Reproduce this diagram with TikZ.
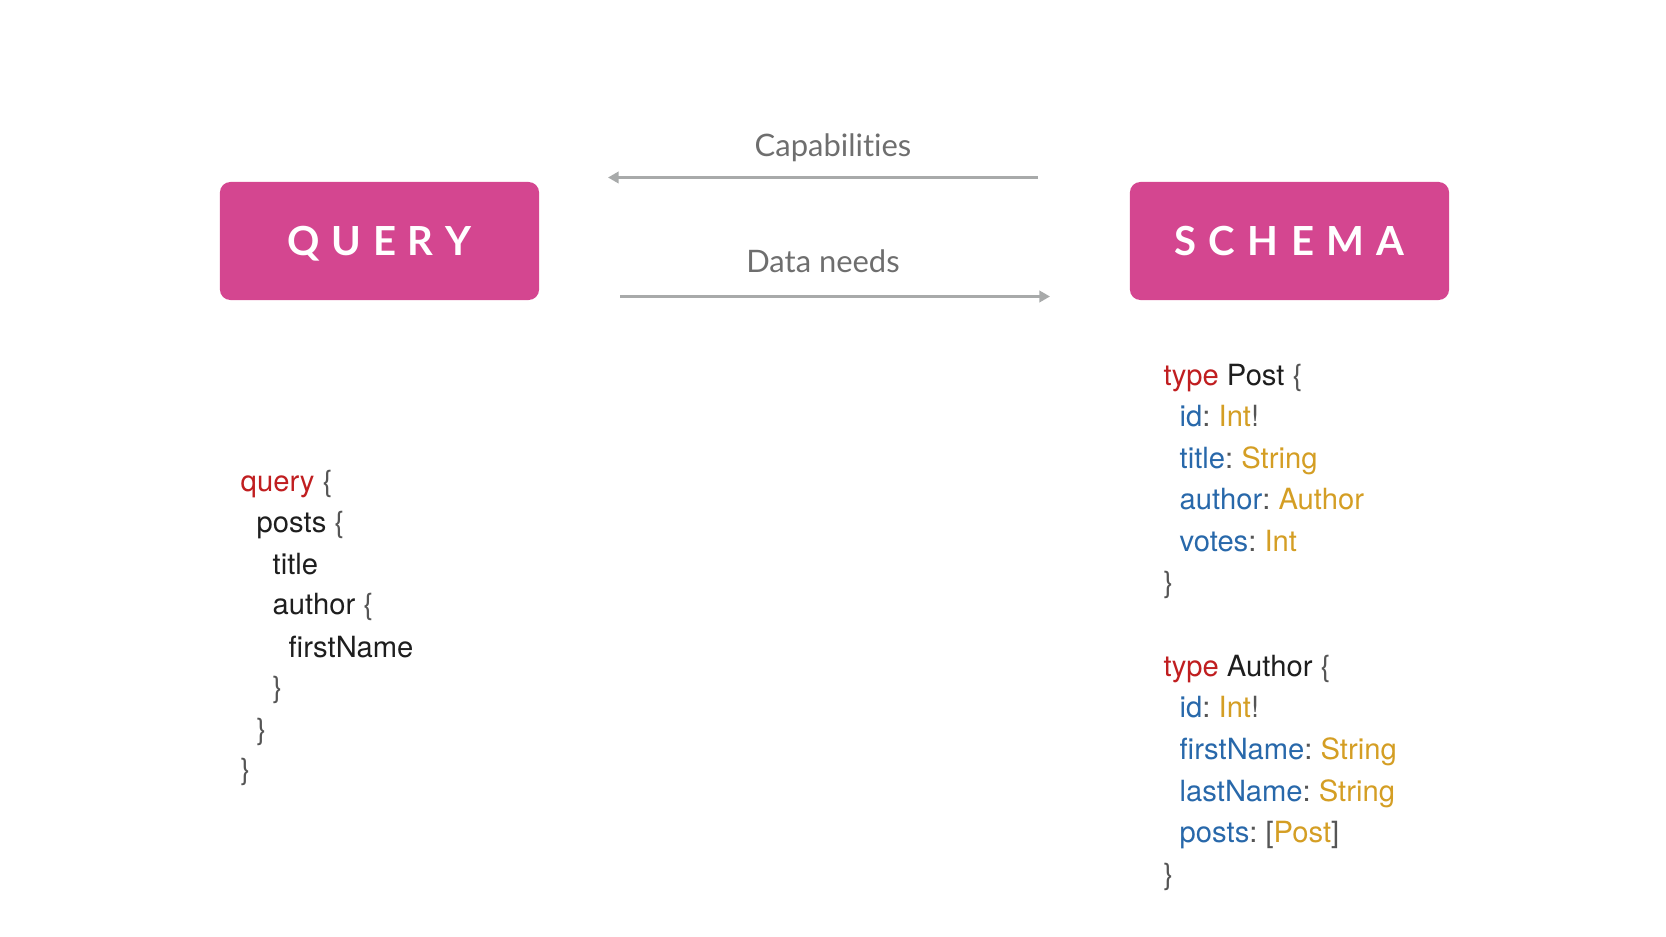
\documentclass[tikz,border=0pt]{standalone}
\usepackage{fontspec}
\setmainfont{TeX Gyre Heros}
\newfontfamily\labelfont[Ligatures={NoCommon}]{Lato}
\usetikzlibrary{arrows.meta}
\frenchspacing

\definecolor{boxpink}{RGB}{212,70,144}
\definecolor{arrowgray}{RGB}{168,170,170}
\definecolor{labelgray}{RGB}{110,110,110}
\definecolor{kwred}{RGB}{192,30,32}
\definecolor{fieldblue}{RGB}{40,104,170}
\definecolor{typegold}{RGB}{212,158,36}
\definecolor{codeblack}{RGB}{30,30,30}
\definecolor{bracegray}{RGB}{85,85,85}

\newcommand{\kw}[1]{\textcolor{kwred}{#1}}
\newcommand{\fld}[1]{\textcolor{fieldblue}{#1}}
\newcommand{\typ}[1]{\textcolor{typegold}{#1}}
\newcommand{\pun}[1]{\textcolor{bracegray}{#1}}

\begin{document}
\begin{tikzpicture}[x=0.01cm,y=-0.01cm,
  titlebox/.style={fill=boxpink, rounded corners=3pt, minimum width=3.19cm,
    minimum height=1.18cm, inner sep=0pt, text=white,
    text height=0.28cm, text depth=0pt,
    font=\labelfont\bfseries\fontsize{11.4pt}{13pt}\selectfont},
  flowlabel/.style={text=labelgray, inner sep=0pt, anchor=base,
    font=\labelfont\fontsize{8.8pt}{10pt}\selectfont},
  flow/.style={draw=arrowgray, line width=0.75pt,
    -{Triangle[length=3pt,width=3.2pt]}},
  code/.style={anchor=base west, inner sep=0pt, text=codeblack,
    font=\fontsize{8.3pt}{10pt}\selectfont}]

\useasboundingbox (0,0) rectangle (1666,937);

% title boxes
\node[titlebox] (query) at (379.5,241) {Q\kern3.3pt U\kern3.3pt E\kern3.3pt R\kern3.3pt Y};
\node[titlebox] (schema) at (1289.5,241) {S\kern3.5pt C\kern3.5pt H\kern3.5pt E\kern3.5pt M\kern3.5pt A};

% exchange arrows between the boxes
\coordinate (capStart) at (1038,177.5);
\coordinate (capEnd) at (608,177.5);
\coordinate (needStart) at (620,296.5);
\coordinate (needEnd) at (1050,296.5);
\draw[flow] (capStart) -- (capEnd);
\draw[flow] (needStart) -- (needEnd);
\node[flowlabel] (capLabel) at (833,157) {Capabilit\kern0pt ies};
\node[flowlabel] (needLabel) at (823,273) {Data needs};

% query document
\node[code] (q1) at (240,492) {\kw{query} \pun{\{}};
\node[code] (q2) at (256,533) {posts \pun{\{}};
\node[code] (q3) at (272,574) {title};
\node[code] (q4) at (272,615) {author \pun{\{}};
\node[code] (q5) at (288,657) {firstName};
\node[code] (q6) at (272,698) {\pun{\}}};
\node[code] (q7) at (256,739) {\pun{\}}};
\node[code] (q8) at (240,780) {\pun{\}}};

% schema: Post type
\node[code] (p1) at (1163,386) {\kw{type} Post \pun{\{}};
\node[code] (p2) at (1179,427) {\fld{id}\pun{:} \typ{Int}\pun{!}};
\node[code] (p3) at (1179,469) {\fld{title}\pun{:} \typ{String}};
\node[code] (p4) at (1179,510) {\fld{author}\pun{:} \typ{Author}};
\node[code] (p5) at (1179,552) {\fld{votes}\pun{:} \typ{Int}};
\node[code] (p6) at (1163,593) {\pun{\}}};

% schema: Author type
\node[code] (a1) at (1163,676) {\kw{type} Author \pun{\{}};
\node[code] (a2) at (1179,718) {\fld{id}\pun{:} \typ{Int}\pun{!}};
\node[code] (a3) at (1179,759) {\fld{firstName}\pun{:} \typ{String}};
\node[code] (a4) at (1179,801) {\fld{lastName}\pun{:} \typ{String}};
\node[code] (a5) at (1179,843) {\fld{posts}\pun{:} \pun{[}\typ{Post}\pun{]}};
\node[code] (a6) at (1163,884) {\pun{\}}};

\end{tikzpicture}
\end{document}
